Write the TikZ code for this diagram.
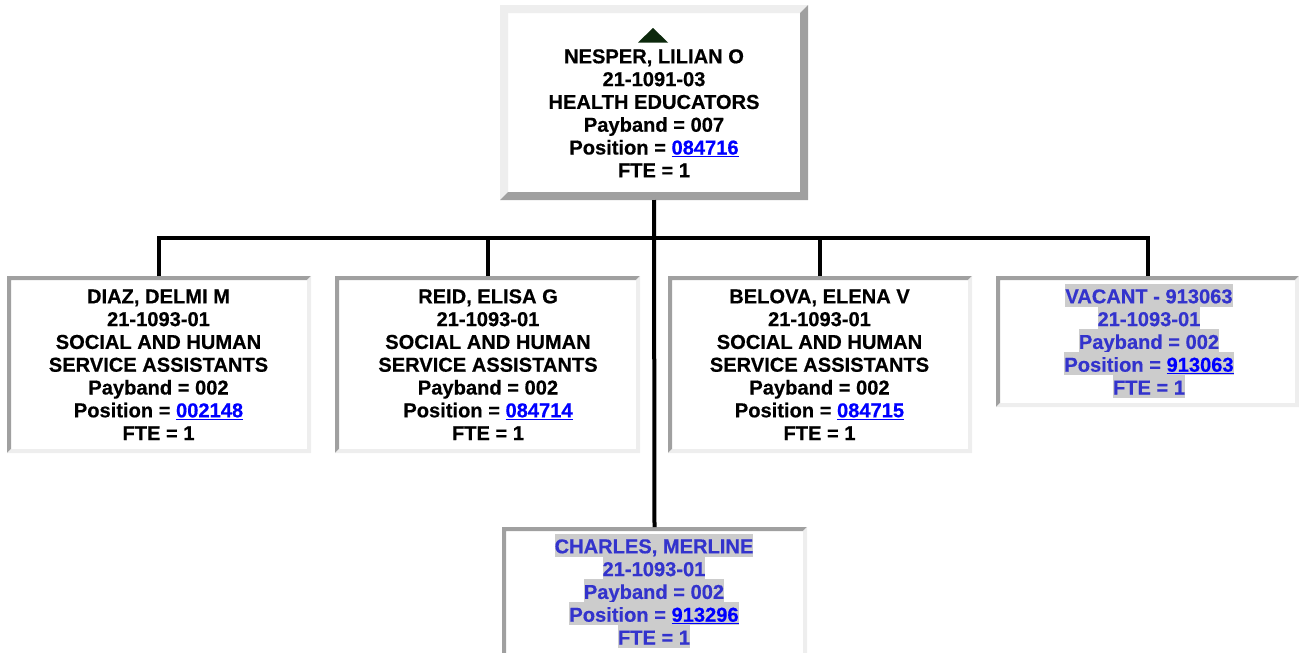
\documentclass[tikz,border=0pt]{standalone}
\usepackage{fontspec}
\setmainfont{Liberation Sans}[BoldFeatures={FakeBold=0.5}]
\usetikzlibrary{calc}
\definecolor{dkgray}{HTML}{A0A0A0}
\definecolor{ltgray}{HTML}{EEEEEE}
\definecolor{hlgray}{HTML}{CCCCCC}
\definecolor{vacblue}{HTML}{3333CC}
\definecolor{linkblue}{HTML}{0000FF}
\definecolor{tri}{HTML}{0C280C}
\setlength{\fboxsep}{0pt}
\newcommand\plainl[1]{\rule[-3.3pt]{0pt}{22.8pt}\smash{#1}}
\newcommand\hil[1]{\colorbox{hlgray}{\rule[-3.3pt]{0pt}{22.8pt}\smash{#1}}}
\newcommand\lnk[1]{\textcolor{linkblue}{\underline{#1}}}
% bevelled border: node name, width, top-left colour, bottom-right colour
\newcommand\bevel[4]{%
  \fill[#3] (#1.north west) -- (#1.north east) -- ([shift={(-#2,#2)}]#1.north east)
    -- ([shift={(#2,#2)}]#1.north west) -- ([shift={(#2,-#2)}]#1.south west)
    -- (#1.south west) -- cycle;
  \fill[#4] (#1.north east) -- (#1.south east) -- (#1.south west)
    -- ([shift={(#2,-#2)}]#1.south west) -- ([shift={(-#2,-#2)}]#1.south east)
    -- ([shift={(-#2,#2)}]#1.north east) -- cycle;}
\tikzset{
  orgbox/.style={rectangle, fill=white, draw=none, inner sep=0pt, outer sep=0pt},
  orgtext/.style={anchor=north, inner sep=0pt, outer sep=0pt, align=center,
    font=\fontsize{20.1}{22.8}\selectfont\bfseries},
  conn/.style={line width=4pt, black}
}
\begin{document}
\begin{tikzpicture}[x=1pt,y=-1pt]
\useasboundingbox (0,0) rectangle (1299,653);
% boxes
\node[orgbox, minimum width=308, minimum height=195] (top) at (654,102.5) {};
\bevel{top}{8}{ltgray}{dkgray}
\node[orgbox, minimum width=304, minimum height=177] (diaz) at (159,364.5) {};
\bevel{diaz}{4}{dkgray}{ltgray}
\node[orgbox, minimum width=305, minimum height=177] (reid) at (487.5,364.5) {};
\bevel{reid}{4}{dkgray}{ltgray}
\node[orgbox, minimum width=304, minimum height=177] (belova) at (820,364.5) {};
\bevel{belova}{4}{dkgray}{ltgray}
\node[orgbox, minimum width=303, minimum height=131] (vacant) at (1147.5,341.5) {};
\bevel{vacant}{4}{dkgray}{ltgray}
\node[orgbox, minimum width=305, minimum height=140] (charles) at (654.5,597) {};
\bevel{charles}{4}{dkgray}{ltgray}
% connectors
\coordinate (bus) at (654,238);
\draw[conn] (top.south) -- (charles.north);
\draw[conn] (diaz.north) |- (bus);
\draw[conn] (reid.north) |- (bus);
\draw[conn] (belova.north) |- (bus);
\draw[conn] (vacant.north) |- (bus);
% triangle
\fill[tri] (638,42.5) -- (653,28) -- (668,42.5) -- cycle;
% texts
\node[orgtext] (toptxt) at (654,43.8) {\plainl{NESPER, LILIAN O}\\\plainl{21-1091-03}\\\plainl{HEALTH EDUCATORS}\\\plainl{Payband = 007}\\\plainl{Position = \lnk{084716}}\\\plainl{FTE = 1}};
\node[orgtext] (diaztxt) at (158.5,283.8) {\plainl{DIAZ, DELMI M}\\\plainl{21-1093-01}\\\plainl{SOCIAL AND HUMAN}\\\plainl{SERVICE ASSISTANTS}\\\plainl{Payband = 002}\\\plainl{Position = \lnk{002148}}\\\plainl{FTE = 1}};
\node[orgtext] (reidtxt) at (488,283.8) {\plainl{REID, ELISA G}\\\plainl{21-1093-01}\\\plainl{SOCIAL AND HUMAN}\\\plainl{SERVICE ASSISTANTS}\\\plainl{Payband = 002}\\\plainl{Position = \lnk{084714}}\\\plainl{FTE = 1}};
\node[orgtext] (belovatxt) at (819.5,283.8) {\plainl{BELOVA, ELENA V}\\\plainl{21-1093-01}\\\plainl{SOCIAL AND HUMAN}\\\plainl{SERVICE ASSISTANTS}\\\plainl{Payband = 002}\\\plainl{Position = \lnk{084715}}\\\plainl{FTE = 1}};
\node[orgtext, text=vacblue] (vacanttxt) at (1149,283.8) {\hil{VACANT - 913063}\\\hil{21-1093-01}\\\hil{Payband = 002}\\\hil{Position = \lnk{913063}}\\\hil{FTE = 1}};
\node[orgtext, text=vacblue] (charlestxt) at (654,533.8) {\hil{CHARLES, MERLINE}\\\hil{21-1093-01}\\\hil{Payband = 002}\\\hil{Position = \lnk{913296}}\\\hil{FTE = 1}};
\end{tikzpicture}
\end{document}
